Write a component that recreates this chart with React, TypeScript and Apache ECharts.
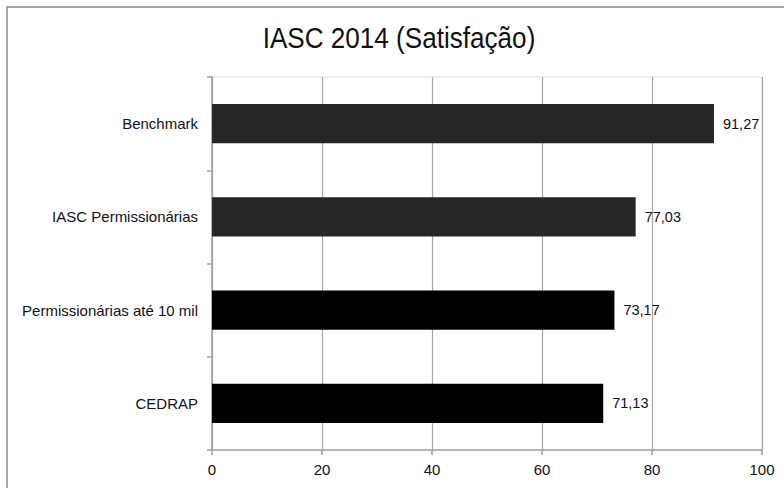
import React, { useEffect, useRef } from "react";
import * as echarts from "echarts";

const categories = ["Benchmark", "IASC Permissionárias", "Permissionárias até 10 mil", "CEDRAP"];
const values = [91.27, 77.03, 73.17, 71.13];
const barColors = ["#262626", "#262626", "#000000", "#000000"];
const titleText = "IASC 2014 (Satisfação)";

export default function App() {
  const ref = useRef<HTMLDivElement>(null);
  useEffect(() => {
    document.body.style.margin = "0";
    const chart = echarts.init(ref.current!, null, { renderer: "svg" });
    chart.setOption({
      animation: false,
      backgroundColor: "#ffffff",
      textStyle: { fontFamily: "Arial, Liberation Sans, sans-serif" },
      graphic: [
        {
          type: "rect",
          shape: { x: 7, y: 7, width: 820, height: 520 },
          style: { fill: "none", stroke: "#8a8a8a", lineWidth: 1.5 },
          silent: true,
        },
        {
          type: "text",
          x: 399,
          y: 38,
          scaleX: 0.9,
          style: {
            text: titleText,
            fontSize: 29,
            fontFamily: "Arial, Liberation Sans, sans-serif",
            fill: "#111",
            align: "center",
            verticalAlign: "middle",
          },
        },
      ],
      grid: {
        left: 212,
        right: 22,
        top: 77,
        bottom: 38,
        show: true,
        borderColor: "#e2e2e2",
        borderWidth: 1,
      },
      xAxis: {
        type: "value",
        min: 0,
        max: 100,
        interval: 20,
        axisLine: { show: true, lineStyle: { color: "#a0a0a0", width: 1.5 } },
        axisTick: { show: true, length: 5, lineStyle: { color: "#a0a0a0", width: 1.5 } },
        axisLabel: { color: "#111", fontSize: 15, margin: 12 },
        splitLine: { show: true, lineStyle: { color: "#a6a6a6", width: 1.2 } },
      },
      yAxis: {
        type: "category",
        inverse: true,
        data: categories,
        axisLine: { show: true, lineStyle: { color: "#a0a0a0", width: 1.5 } },
        axisTick: { show: true, length: 5, lineStyle: { color: "#a0a0a0", width: 1.5 } },
        axisLabel: { color: "#111", fontSize: 15, margin: 14 },
        splitLine: { show: false },
      },
      series: [
        {
          type: "bar",
          barWidth: "42%",
          data: values.map((v, i) => ({ value: v, itemStyle: { color: barColors[i] } })),
          label: {
            show: true,
            position: "right",
            distance: 9,
            color: "#111",
            fontSize: 14.5,
            formatter: (p: any) => String(p.value.toFixed(2)).replace(".", ","),
          },
        },
      ],
    });
    return () => chart.dispose();
  }, []);
  return <div ref={ref} style={{ position: "fixed", left: 0, top: 0, width: 784, height: 488 }} />;
}
